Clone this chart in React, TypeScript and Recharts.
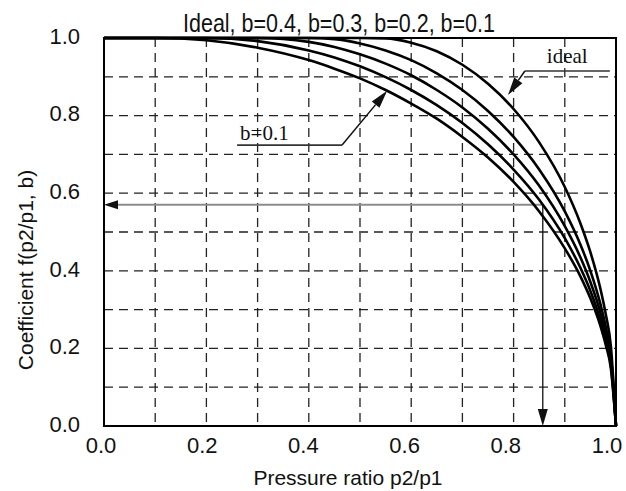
import { LineChart, Line, XAxis, YAxis, CartesianGrid, ReferenceLine, ReferenceArea } from "recharts";

// pressure ratio p2/p1 and the read-off coefficient for each curve
const ratio = [0, 0.1, 0.2, 0.3, 0.4, 0.45, 0.5, 0.55, 0.6, 0.65, 0.7, 0.75, 0.8, 0.85, 0.9, 0.93, 0.95, 0.97, 0.98, 0.99, 1.0];
const ideal = [1, 1, 1, 1, 1, 1, 1, 0.999, 0.988, 0.966, 0.931, 0.882, 0.817, 0.731, 0.616, 0.524, 0.448, 0.351, 0.288, 0.205, 0];
const b04 = [1, 1, 1, 1, 1, 0.997, 0.986, 0.968, 0.943, 0.909, 0.866, 0.812, 0.745, 0.661, 0.553, 0.469, 0.4, 0.312, 0.256, 0.182, 0];
const b03 = [1, 1, 1, 1, 0.99, 0.977, 0.958, 0.934, 0.904, 0.866, 0.821, 0.766, 0.7, 0.619, 0.515, 0.436, 0.371, 0.29, 0.237, 0.169, 0];
const b02 = [1, 1, 1, 0.992, 0.968, 0.95, 0.927, 0.899, 0.866, 0.827, 0.781, 0.726, 0.661, 0.583, 0.484, 0.409, 0.348, 0.271, 0.222, 0.157, 0];
const b01 = [1, 1, 0.994, 0.975, 0.943, 0.921, 0.896, 0.866, 0.831, 0.792, 0.745, 0.692, 0.629, 0.553, 0.458, 0.387, 0.329, 0.256, 0.209, 0.148, 0];

const ticks = [0, 0.1, 0.2, 0.3, 0.4, 0.5, 0.6, 0.7, 0.8, 0.9, 1.0];

// reading example: p2/p1 = 0.857 gives f = 0.57
const readRatio = 0.857;
const readValue = 0.57;

// leader notes (data coordinates)
const idealLine = { from: 0.822, to: 0.988, y: 0.915, tipX: 0.789, tipY: 0.853 };
const bLine = { from: 0.26, to: 0.465, y: 0.724, tipX: 0.553, tipY: 0.864 };

const data = ratio.map((r, i) => ({ r, ideal: ideal[i], b04: b04[i], b03: b03[i], b02: b02[i], b01: b01[i] }));

const SANS = "'Liberation Sans', Arial, sans-serif";
const SERIF = "'Liberation Serif', 'Times New Roman', serif";

const isLabelled = (v: number) => Math.round(v * 10) % 2 === 0;

function XTick({ x, y, payload }: any) {
  if (!isLabelled(payload.value)) return <g />;
  // labels sit a little left of their tick in the original, more so at the right end
  return (
    <text x={x - 3 - 6 * payload.value} y={y} dy="0.71em" textAnchor="middle" fontSize={22} fill="#111" fontFamily={SANS}>
      {payload.value.toFixed(1)}
    </text>
  );
}

function YTick({ x, y, payload }: any) {
  if (!isLabelled(payload.value)) return <g />;
  return (
    <text x={x} y={y - 2} dy="0.355em" textAnchor="end" fontSize={22} fill="#111" fontFamily={SANS}>
      {payload.value.toFixed(1)}
    </text>
  );
}

const arrowShape = (color: string, width: number, len: number, half: number, headColor = color) => (p: any) => {
  const { x1, y1, x2, y2 } = p;
  const dx = x2 - x1;
  const dy = y2 - y1;
  const d = Math.hypot(dx, dy) || 1;
  const ux = dx / d;
  const uy = dy / d;
  const bx = x2 - ux * len;
  const by = y2 - uy * len;
  const pts = `${x2},${y2} ${bx - uy * half},${by + ux * half} ${bx + uy * half},${by - ux * half}`;
  return (
    <g>
      <line x1={x1} y1={y1} x2={bx} y2={by} stroke={color} strokeWidth={width} />
      <polygon points={pts} fill={headColor} />
    </g>
  );
};

const noteShape = (text: string, dx: number, dy: number) => (p: any) => {
  const { x1, y1, x2, y2 } = p;
  return (
    <g>
      <line x1={x1} y1={y1} x2={x2} y2={y2} stroke="#333" strokeWidth={1.6} />
      <text x={x1 + dx} y={y1 + dy} fontSize={21} fill="#111" fontFamily={SERIF}>
        {text}
      </text>
    </g>
  );
};

export default function App() {
  return (
    <div style={{ position: "absolute", left: 0, top: 0, width: 626, height: 491, background: "#fff" }}>
      <LineChart width={626} height={491} data={data} margin={{ top: 38, right: 10, left: 44, bottom: 22 }}>
        <CartesianGrid stroke="#222" strokeWidth={1.3} strokeDasharray="9 6" />
        <XAxis
          dataKey="r"
          type="number"
          domain={[0, 1]}
          ticks={ticks}
          interval={0}
          height={43}
          axisLine={false}
          tickLine={false}
          tickSize={0}
          tickMargin={11}
          tick={<XTick />}
          label={{
            content: ({ viewBox }: any) => (
              <text x={viewBox.x + viewBox.width / 2 - 12} y={485} textAnchor="middle" fontSize={21} fill="#111" fontFamily={SANS}>
                Pressure ratio p2/p1
              </text>
            ),
          }}
        />
        <YAxis
          type="number"
          domain={[0, 1]}
          ticks={ticks}
          interval={0}
          width={60}
          axisLine={false}
          tickLine={false}
          tickSize={0}
          tickMargin={24}
          tick={<YTick />}
          label={{
            content: ({ viewBox }: any) => {
              const cy = viewBox.y + viewBox.height / 2 + 38;
              return (
                <text x={33} y={cy} transform={`rotate(-90 33 ${cy})`} textAnchor="middle" fontSize={21} fill="#111" fontFamily={SANS}>
                  Coefficient f(p2/p1, b)
                </text>
              );
            },
          }}
        />
        <ReferenceLine
          segment={[{ x: readRatio, y: readValue }, { x: 0, y: readValue }]}
          shape={arrowShape("#8c8c8c", 2, 14, 4.5, "#111")}
          ifOverflow="visible"
        />
        <ReferenceLine
          segment={[{ x: readRatio, y: readValue }, { x: readRatio, y: 0 }]}
          shape={arrowShape("#111", 1.3, 17, 5)}
          ifOverflow="visible"
        />
        <Line dataKey="ideal" type="monotone" stroke="#000" strokeWidth={2.6} dot={false} isAnimationActive={false} />
        <Line dataKey="b04" type="monotone" stroke="#000" strokeWidth={2.6} dot={false} isAnimationActive={false} />
        <Line dataKey="b03" type="monotone" stroke="#000" strokeWidth={2.6} dot={false} isAnimationActive={false} />
        <Line dataKey="b02" type="monotone" stroke="#000" strokeWidth={2.6} dot={false} isAnimationActive={false} />
        <Line dataKey="b01" type="monotone" stroke="#000" strokeWidth={2.6} dot={false} isAnimationActive={false} />
        <ReferenceLine
          segment={[{ x: idealLine.from, y: idealLine.y }, { x: idealLine.to, y: idealLine.y }]}
          shape={noteShape("ideal", 22, -8)}
          ifOverflow="visible"
        />
        <ReferenceLine
          segment={[{ x: idealLine.from, y: idealLine.y }, { x: idealLine.tipX, y: idealLine.tipY }]}
          shape={arrowShape("#111", 1.5, 18, 5)}
          ifOverflow="visible"
        />
        <ReferenceLine
          segment={[{ x: bLine.from, y: bLine.y }, { x: bLine.to, y: bLine.y }]}
          shape={noteShape("b=0.1", 3, -5)}
          ifOverflow="visible"
        />
        <ReferenceLine
          segment={[{ x: bLine.to, y: bLine.y }, { x: bLine.tipX, y: bLine.tipY }]}
          shape={arrowShape("#111", 1.5, 18, 5)}
          ifOverflow="visible"
        />
        <ReferenceArea x1={0} x2={1} y1={0} y2={1} fill="none" stroke="#000" strokeWidth={2} ifOverflow="visible" />
      </LineChart>
      <svg width={626} height={40} style={{ position: "absolute", left: 0, top: 0, pointerEvents: "none" }}>
        <text x={339} y={32} textAnchor="middle" fontSize={25} fill="#111" fontFamily={SANS} textLength={312} lengthAdjust="spacingAndGlyphs">
          Ideal, b=0.4, b=0.3, b=0.2, b=0.1
        </text>
      </svg>
    </div>
  );
}
